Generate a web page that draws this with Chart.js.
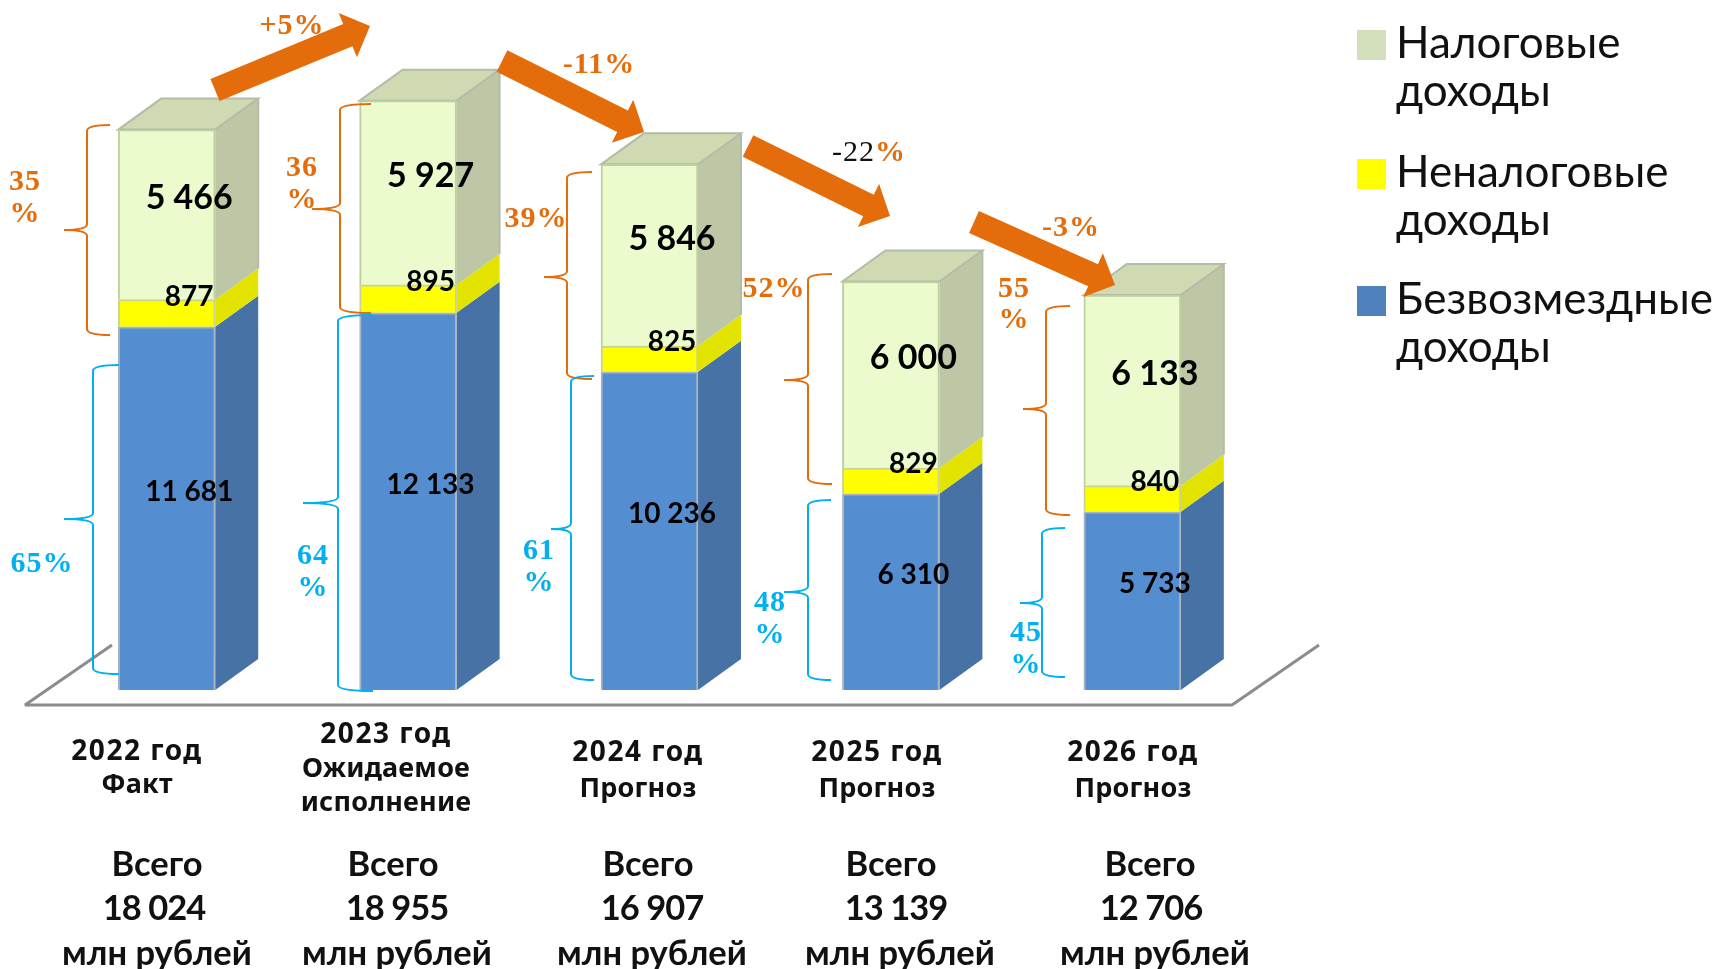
<!DOCTYPE html>
<html>

<head>
  <title>Доходы бюджета</title>
  <script src="https://cdn.jsdelivr.net/npm/chart.js"></script>
  <style>
    html,
    body {
      margin: 0;
      background: #fff;
    }

    #wrap {
      position: relative;
      width: 1721px;
      height: 969px;
      overflow: hidden;
    }

    #myChart {
      position: absolute;
      left: 0;
      top: 0;
    }

    .txt {
      position: absolute;
      transform: translate(-50%, -50%);
      white-space: nowrap;
      line-height: 1;
    }

    .pct {
      font: bold 30px "Liberation Serif", serif;
      letter-spacing: 1px;
    }

    .orange {
      color: #e46c0a;
    }

    .cyan {
      color: #00b0f0;
    }

    .year {
      font: bold 27px "Noto Sans", sans-serif;
      letter-spacing: 0.2px;
      color: #111;
    }

    .yearHead {
      font-size: 28px;
      letter-spacing: 1.5px;
    }

    .total {
      font: bold 34.5px Lato, sans-serif;
      color: #111;
    }

    .totalNum {
      letter-spacing: -1px;
    }

    .legendText {
      position: absolute;
      font: 44px Lato, sans-serif;
      line-height: 48px;
      color: #111;
    }

    .swatch {
      position: absolute;
      width: 29px;
      height: 30px;
    }
  </style>
</head>

<body>
  <div id="wrap">
    <canvas id="myChart" width="1721" height="969"></canvas>
  </div>

  <script>
    const categories = [
      ['2022 год', 'Факт'],
      ['2023 год', 'Ожидаемое', 'исполнение'],
      ['2024 год', 'Прогноз'],
      ['2025 год', 'Прогноз'],
      ['2026 год', 'Прогноз']
    ];
    const freeIncome = [11681, 12133, 10236, 6310, 5733];
    const nonTaxIncome = [877, 895, 825, 829, 840];
    const taxIncome = [5466, 5927, 5846, 6000, 6133];
    const totals = ['18 024', '18 955', '16 907', '13 139', '12 706'];
    const seriesNames = ['Безвозмездные доходы', 'Неналоговые доходы', 'Налоговые доходы'];
    const taxShare = ['35 %', '36 %', '39%', '52%', '55 %'];
    const freeShare = ['65%', '64 %', '61 %', '48 %', '45 %'];
    const changes = ['+5%', '-11%', '-22%', '-3%'];

    // bar faces: front, side, top
    const faces = [
      { front: '#558ed0', side: '#4672a6', border: '#a9b4c2' },
      { front: '#ffff00', side: '#e3e300', border: '#c9d48e' },
      { front: '#ebfbce', side: '#bec7a5', top: '#cfd9b2', border: '#c0cfa0' }
    ];
    const depthX = 43;
    const depthY = 31;

    function money(v) {
      const s = String(v);
      return s.length > 3 ? s.slice(0, -3) + ' ' + s.slice(-3) : s;
    }

    const box3d = {
      id: 'box3d',
      beforeDatasetsDraw(chart) {
        const c = chart.ctx;
        const y0 = chart.scales.y.getPixelForValue(0);

        // floor
        c.save();
        c.strokeStyle = '#8c8c8c';
        c.lineWidth = 3;
        c.lineJoin = 'bevel';
        c.beginPath();
        c.moveTo(112, y0 - 45);
        c.lineTo(25, y0 + 15);
        c.lineTo(1232, y0 + 15);
        c.lineTo(1319, y0 - 45);
        c.stroke();
        c.lineJoin = 'miter';

        // side faces
        chart.data.datasets.forEach((ds, i) => {
          chart.getDatasetMeta(i).data.forEach(bar => {
            const r = bar.x + bar.width / 2;
            c.fillStyle = faces[i].side;
            c.beginPath();
            c.moveTo(r, bar.y);
            c.lineTo(r + depthX, bar.y - depthY);
            c.lineTo(r + depthX, bar.base - depthY);
            c.lineTo(r, bar.base);
            c.closePath();
            c.fill();
          });
        });
        c.strokeStyle = '#b4bba6';
        c.lineWidth = 2;
        chart.getDatasetMeta(2).data.forEach(bar => {
          const l = bar.x - bar.width / 2;
          const r = bar.x + bar.width / 2;
          c.fillStyle = faces[2].top;
          c.beginPath();
          c.moveTo(l, bar.y);
          c.lineTo(l + depthX, bar.y - depthY);
          c.lineTo(r + depthX, bar.y - depthY);
          c.lineTo(r, bar.y);
          c.closePath();
          c.fill();
          c.stroke();
          c.beginPath();
          c.moveTo(r + depthX, bar.y - depthY);
          c.lineTo(r + depthX, bar.base - depthY);
          c.stroke();
        });
        c.restore();
      },
      afterDatasetsDraw(chart) {
        const c = chart.ctx;
        c.save();
        c.fillStyle = '#000';
        c.textAlign = 'center';
        c.textBaseline = 'middle';
        chart.data.datasets.forEach((ds, i) => {
          c.font = 'bold ' + (i === 2 ? 34 : 28) + 'px Lato, sans-serif';
          chart.getDatasetMeta(i).data.forEach((bar, j) => {
            c.fillText(money(ds.data[j]), bar.x + depthX / 2 + 1, (bar.y + bar.base) / 2 - depthY / 2 - 1);
          });
        });
        c.restore();
      }
    };

    // braces: spine x, end x, top, bottom, tip x, tip y
    const taxBraces = [
      [87, 110, 125, 335, 64, 230],
      [340, 371, 104, 313, 312, 209],
      [567, 592, 172, 379, 544, 277],
      [808, 832, 274, 484, 784, 380],
      [1046, 1070, 306, 515, 1023, 409]
    ];
    const freeBraces = [
      [93, 119, 365, 674, 64, 519],
      [338, 373, 315, 691, 303, 503],
      [571, 594, 376, 680, 551, 529],
      [808, 831, 500, 680, 784, 592],
      [1042, 1065, 528, 677, 1020, 603]
    ];
    // arrows: tail x, tail y, tip x, tip y
    const arrows = [
      [215, 90, 370, 26],
      [502, 61, 644, 132],
      [748, 146, 890, 216],
      [974, 222, 1115, 285]
    ];

    function drawBrace(c, b, color) {
      const [sx, ex, top, bot, tx, ty] = b;
      const q = 6;
      c.strokeStyle = color;
      c.lineWidth = 2;
      c.beginPath();
      c.moveTo(ex, top);
      c.quadraticCurveTo(sx, top, sx, top + q);
      c.lineTo(sx, ty - q);
      c.quadraticCurveTo(sx, ty, tx, ty);
      c.quadraticCurveTo(sx, ty, sx, ty + q);
      c.lineTo(sx, bot - q);
      c.quadraticCurveTo(sx, bot, ex, bot);
      c.stroke();
    }

    function drawArrow(c, a) {
      const [x0, y0, x1, y1] = a;
      const len = Math.hypot(x1 - x0, y1 - y0);
      const ux = (x1 - x0) / len;
      const uy = (y1 - y0) / len;
      const nx = -uy;
      const ny = ux;
      const shaft = 12;
      const head = 24;
      const hl = 24;
      const bx = x1 - ux * hl;
      const by = y1 - uy * hl;
      c.fillStyle = '#e46c0a';
      c.beginPath();
      c.moveTo(x0 + nx * shaft, y0 + ny * shaft);
      c.lineTo(bx + nx * shaft, by + ny * shaft);
      c.lineTo(bx + nx * head, by + ny * head);
      c.lineTo(x1, y1);
      c.lineTo(bx - nx * head, by - ny * head);
      c.lineTo(bx - nx * shaft, by - ny * shaft);
      c.lineTo(x0 - nx * shaft, y0 - ny * shaft);
      c.closePath();
      c.fill();
    }

    const notes = {
      id: 'notes',
      afterDraw(chart) {
        const c = chart.ctx;
        c.save();
        taxBraces.forEach(b => drawBrace(c, b, '#e46c0a'));
        freeBraces.forEach(b => drawBrace(c, b, '#00b0f0'));
        arrows.forEach(a => drawArrow(c, a));
        c.restore();
      }
    };

    new Chart(document.getElementById('myChart'), {
      type: 'bar',
      data: {
        labels: categories.map(l => l.join(' ')),
        datasets: [freeIncome, nonTaxIncome, taxIncome].map((data, i) => ({
          label: seriesNames[i],
          data: data,
          backgroundColor: faces[i].front,
          borderColor: faces[i].border,
          borderWidth: 2,
          barThickness: 97
        }))
      },
      options: {
        responsive: false,
        animation: false,
        layout: { padding: { left: 46, right: 468, top: 6, bottom: 279 } },
        scales: {
          x: { stacked: true, display: false },
          y: { stacked: true, display: false, min: 0, max: 22000 }
        },
        plugins: { legend: { display: false }, tooltip: { enabled: false } }
      },
      plugins: [box3d, notes]
    });

    // text around the chart
    const wrap = document.getElementById('wrap');

    function addText(x, y, text, cls) {
      const d = document.createElement('div');
      d.className = 'txt ' + cls;
      d.style.left = x + 'px';
      d.style.top = y + 'px';
      d.innerHTML = text;
      wrap.appendChild(d);
    }

    function addShare(text, x, ys, cls) {
      const parts = text.split(' ');
      parts.forEach((p, i) => addText(x, ys[i], p, 'pct ' + cls));
    }

    addShare(taxShare[0], 25, [180, 212], 'orange');
    addShare(taxShare[1], 302, [166, 198], 'orange');
    addShare(taxShare[2], 536, [217], 'orange');
    addShare(taxShare[3], 774, [287], 'orange');
    addShare(taxShare[4], 1014, [287, 318], 'orange');
    addShare(freeShare[0], 42, [562], 'cyan');
    addShare(freeShare[1], 313, [554, 586], 'cyan');
    addShare(freeShare[2], 539, [549, 581], 'cyan');
    addShare(freeShare[3], 770, [601, 633], 'cyan');
    addShare(freeShare[4], 1026, [631, 663], 'cyan');

    addText(292, 24, changes[0], 'pct orange');
    addText(599, 63, changes[1], 'pct orange');
    addText(869, 151, '<span style="color:#111;font-weight:normal">-22</span>%', 'pct orange');
    addText(1071, 226, changes[3], 'pct orange');

    const yearX = [137, 386, 638, 877, 1133];
    const yearY = [[749, 782], [732, 766, 800], [750, 786], [750, 786], [750, 786]];
    categories.forEach((lines, i) => {
      lines.forEach((l, j) => addText(yearX[i], yearY[i][j], l, j === 0 ? 'year yearHead' : 'year'));
    });

    const totalX = [[157, 154, 157], [393, 397, 397], [648, 652, 652], [891, 896, 900], [1150, 1151, 1155]];
    totals.forEach((t, i) => {
      addText(totalX[i][0], 862, 'Всего', 'total');
      addText(totalX[i][1], 906, t, 'total totalNum');
      addText(totalX[i][2], 951, 'млн рублей', 'total');
    });

    const legendColors = ['#d4e0bb', '#ffff00', '#4f81bd'];
    const legendOrder = [2, 1, 0];
    const legendY = [30, 159, 286];
    legendOrder.forEach((s, i) => {
      const sw = document.createElement('div');
      sw.className = 'swatch';
      sw.style.left = '1357px';
      sw.style.top = legendY[i] + 'px';
      sw.style.background = legendColors[i];
      wrap.appendChild(sw);
      const t = document.createElement('div');
      t.className = 'legendText';
      t.style.left = '1396px';
      t.style.top = (legendY[i] - 13) + 'px';
      t.innerHTML = seriesNames[s].replace(' ', '<br>');
      wrap.appendChild(t);
    });
  </script>
</body>

</html>
